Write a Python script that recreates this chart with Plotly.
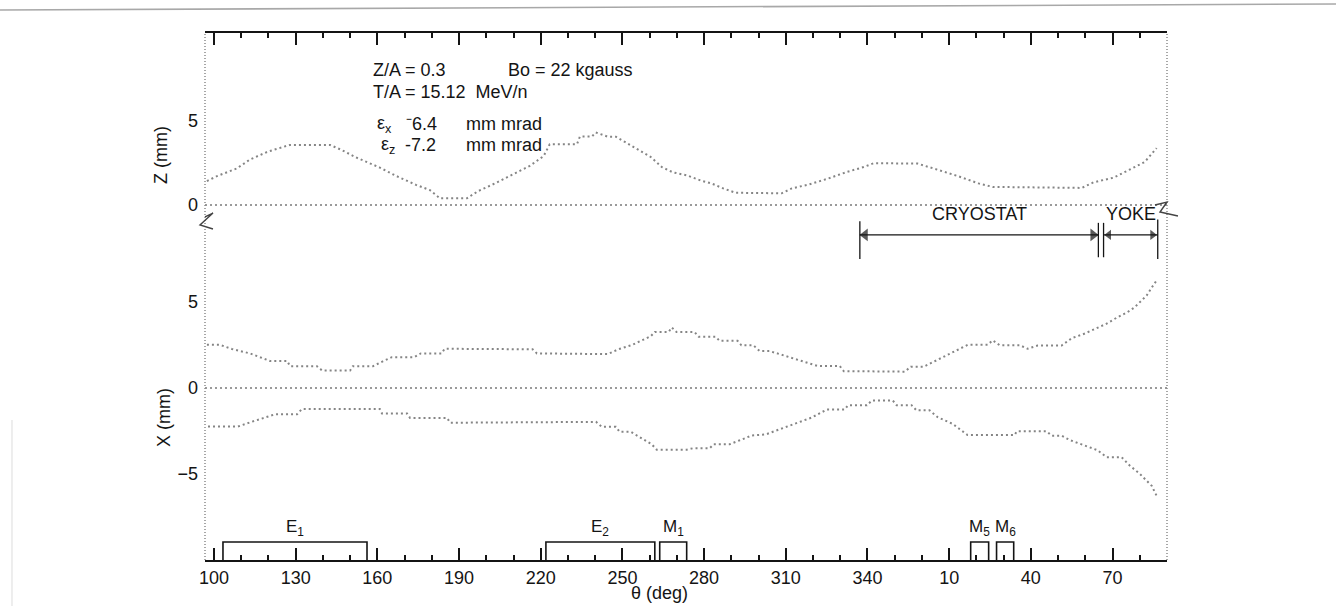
import plotly.graph_objects as go

# ---- beam envelope data: azimuth theta (deg, unwrapped past 360) ----
# vertical half-width Z (mm)
theta_z = [97.4, 101.1, 108.4, 113.2, 119.8, 127.9, 142.6, 147.0, 152.1, 160.9,
           166.8, 174.2, 179.3, 183.0, 192.9, 196.9, 203.2, 208.7, 216.0, 221.1,
           223.3, 233.3, 234.4, 238.8, 240.2, 244.6, 247.6, 250.9, 256.0, 260.4,
           264.5, 268.5, 273.6, 278.8, 282.8, 287.2, 291.6, 308.5, 312.2, 318.4,
           325.4, 332.4, 338.6, 342.3, 358.4, 362.1, 367.3, 373.1, 380.8, 386.0,
           418.7, 423.0, 430.4, 435.9, 441.8, 446.2]
z_env = [1.43, 1.72, 2.18, 2.71, 3.18, 3.58, 3.58, 3.27, 2.84, 2.23,
         1.74, 1.20, 0.89, 0.40, 0.40, 0.82, 1.29, 1.74, 2.33, 2.92,
         3.62, 3.62, 4.08, 4.08, 4.32, 4.07, 4.07, 3.76, 3.28, 2.86,
         2.26, 1.95, 1.77, 1.46, 1.28, 0.98, 0.73, 0.70, 0.99, 1.22,
         1.57, 1.97, 2.26, 2.49, 2.47, 2.29, 2.04, 1.73, 1.29, 1.08,
         1.02, 1.35, 1.63, 2.10, 2.56, 3.39]

# radial envelope, upper edge X (mm)
theta_xu = [97.4, 102.2, 106.6, 113.2, 120.6, 126.9, 127.9, 137.8, 139.7, 150.0,
            151.0, 158.4, 162.0, 165.3, 173.5, 176.0, 183.6, 184.7, 217.0, 218.6,
            244.6, 248.7, 253.5, 257.1, 260.4, 261.9, 267.0, 268.1, 269.9, 276.5,
            278.0, 284.2, 285.7, 292.3, 293.7, 298.1, 300.4, 304.0, 311.8, 317.7,
            321.7, 329.8, 331.3, 353.7, 355.9, 360.7, 364.3, 370.6, 374.2, 376.8,
            384.1, 386.0, 388.5, 395.9, 398.8, 402.5, 411.3, 415.1, 419.9, 424.2,
            427.8, 431.9, 435.5, 438.1, 440.7, 442.5, 444.4, 446.5]
x_upper = [2.52, 2.51, 2.27, 2.01, 1.57, 1.57, 1.27, 1.27, 1.02, 1.02,
           1.27, 1.27, 1.55, 1.79, 1.79, 2.01, 2.01, 2.28, 2.25, 2.01,
           1.97, 2.26, 2.50, 2.77, 3.01, 3.26, 3.26, 3.52, 3.25, 3.25,
           2.98, 2.98, 2.74, 2.74, 2.48, 2.48, 2.15, 2.15, 1.78, 1.48,
           1.28, 1.28, 0.98, 0.95, 1.24, 1.24, 1.52, 1.98, 2.26, 2.51,
           2.51, 2.77, 2.49, 2.49, 2.28, 2.47, 2.47, 2.90, 3.17, 3.46,
           3.74, 4.12, 4.41, 4.69, 5.08, 5.37, 5.84, 6.33]

# radial envelope, lower edge X (mm)
theta_xl = [97.8, 108.8, 113.2, 118.7, 122.4, 130.5, 132.3, 160.9, 161.7, 170.9,
            172.0, 185.6, 186.7, 240.3, 242.4, 247.6, 249.0, 253.1, 257.5, 260.8,
            262.6, 273.6, 275.8, 282.0, 283.5, 289.4, 293.1, 297.5, 302.6, 312.6,
            319.5, 325.1, 331.7, 332.8, 339.8, 341.6, 349.3, 350.7, 356.2, 358.0,
            362.8, 365.8, 371.3, 376.8, 394.0, 394.8, 405.8, 407.6, 411.3, 414.2,
            419.4, 424.5, 427.8, 433.3, 436.3, 440.0, 444.4, 446.2]
x_lower = [-2.24, -2.24, -2.00, -1.72, -1.53, -1.53, -1.22, -1.22, -1.48, -1.48,
           -1.74, -1.74, -2.02, -1.97, -2.26, -2.26, -2.55, -2.55, -2.99, -3.28,
           -3.59, -3.59, -3.51, -3.51, -3.27, -3.27, -3.04, -2.76, -2.70, -2.10,
           -1.72, -1.25, -1.25, -1.01, -1.01, -0.73, -0.73, -1.00, -1.00, -1.30,
           -1.30, -1.70, -2.09, -2.74, -2.74, -2.52, -2.52, -2.77, -2.77, -3.02,
           -3.32, -3.62, -4.02, -4.02, -4.51, -4.99, -5.69, -6.27]

# azimuth axis
theta_range = [96.7, 450.0]
tick_deg = list(range(100, 431, 30))
tick_text = [str(t % 360) for t in tick_deg]
minor_deg = [t for t in range(110, 441, 10) if (t - 100) % 30]

# elements along the orbit: label, start, end (deg)
element_names = ["E<sub>1</sub>", "E<sub>2</sub>", "M<sub>1</sub>", "M<sub>5</sub>", "M<sub>6</sub>"]
element_start = [103.3, 221.9, 263.7, 377.9, 387.4]
element_end = [156.2, 261.9, 273.6, 384.5, 393.7]

# magnet regions
region_names = ["CRYOSTAT", "YOKE"]
region_start = [337.2, 426.7]
region_end = [424.8, 446.6]

# ---- page geometry ----
W, H = 1336, 606
L, R, T, B = 205, 1167, 33, 560
x_split = 0.6528          # X panel below, Z panel above


def px(xp):
    return (xp - L) / (R - L)


def py(yp):
    return (B - yp) / (B - T)


INK = "#141414"
DOT = "#858585"
FONT = "Liberation Sans, Arial, Helvetica, sans-serif"

fig = go.Figure()

# zero / reference orbit lines
for xa, ya in (("x2", "y2"), ("x", "y")):
    fig.add_trace(go.Scatter(x=theta_range, y=[0, 0], mode="lines", xaxis=xa, yaxis=ya,
                             line=dict(color="#7a7a7a", width=1.6, dash="2px,3px"),
                             hoverinfo="skip", showlegend=False))

# envelopes
fig.add_trace(go.Scatter(x=theta_z, y=z_env, mode="lines", xaxis="x2", yaxis="y2",
                         line=dict(color=DOT, width=2, dash="2px,3px"), showlegend=False))
fig.add_trace(go.Scatter(x=theta_xu, y=x_upper, mode="lines", xaxis="x", yaxis="y",
                         line=dict(color=DOT, width=2, dash="2px,3px"), showlegend=False))
fig.add_trace(go.Scatter(x=theta_xl, y=x_lower, mode="lines", xaxis="x", yaxis="y",
                         line=dict(color=DOT, width=2, dash="2px,3px"), showlegend=False))

shapes = []
annotations = []

# element boxes on the orbit axis
box_top = -8.95
for name, a, b in zip(element_names, element_start, element_end):
    shapes.append(dict(type="path", xref="x", yref="y",
                       path=f"M {a} -10 L {a} {box_top} L {b} {box_top} L {b} -10",
                       line=dict(color=INK, width=1.6)))
    annotations.append(dict(x=(a + b) / 2, y=box_top + 0.05, xref="x", yref="y",
                            text=name, showarrow=False, xanchor="center", yanchor="bottom",
                            font=dict(size=17, color=INK)))

# cryostat / yoke extents: dimension lines with arrowheads
arrow_y = 8.9
head_off = 1.9            # half an arrowhead, in degrees
for name, a, b in zip(region_names, region_start, region_end):
    shapes.append(dict(type="line", xref="x", yref="y", x0=a, x1=b, y0=arrow_y, y1=arrow_y,
                       line=dict(color=INK, width=1.3)))
    annotations.append(dict(x=(a + b) / 2, y=arrow_y + 0.5, xref="x", yref="y",
                            text=name, showarrow=False, yanchor="bottom",
                            font=dict(size=18, color=INK)))
fig.add_trace(go.Scatter(
    x=[a + head_off for a in region_start] + [b - head_off for b in region_end],
    y=[arrow_y] * 4, mode="markers", xaxis="x", yaxis="y",
    marker=dict(symbol=["triangle-left"] * 2 + ["triangle-right"] * 2, size=[11, 9, 11, 9],
                color=INK, line=dict(width=0)),
    hoverinfo="skip", showlegend=False))
for xv, y0, y1 in ((region_start[0], 7.5, 9.7), (region_end[0], 7.6, 9.6),
                   (region_start[1], 7.6, 9.6), (region_end[1], 7.5, 9.8)):
    shapes.append(dict(type="line", xref="x", yref="y", x0=xv, x1=xv, y0=y0, y1=y1,
                       line=dict(color=INK, width=1.3)))

# dotted side borders
for xb in (0, 1):
    shapes.append(dict(type="line", xref="paper", yref="paper", x0=xb, x1=xb, y0=0, y1=1,
                       line=dict(color="#8a8a8a", width=1.5, dash="1px,2px")))

# axis-break marks
for pts in (((205, 217), (213, 213), (200, 225), (213, 229)),
            ((1155, 205), (1167, 202), (1160, 212), (1178, 216))):
    path = "M " + " L ".join(f"{px(a):.4f} {py(b):.4f}" for a, b in pts)
    shapes.append(dict(type="path", xref="paper", yref="paper", path=path,
                       line=dict(color="#444", width=1.4)))

# scanned page edge
shapes.append(dict(type="line", xref="paper", yref="paper", x0=px(0), x1=px(W),
                   y0=py(10), y1=py(4), line=dict(color="#a8a8a8", width=1.6)))
shapes.append(dict(type="line", xref="paper", yref="paper", x0=px(12), x1=px(12),
                   y0=py(420), y1=py(606), line=dict(color="#e2e2e2", width=1.2)))


# run parameters
def note(x, y, text, size=18):
    annotations.append(dict(x=px(x), y=py(y), xref="paper", yref="paper", text=text,
                            showarrow=False, xanchor="left", yanchor="middle",
                            font=dict(size=size, color=INK)))


note(371, 70, "Z/A = 0.3")
note(506, 70, "Bo = 22 kgauss")
note(371, 92, "T/A = 15.12  MeV/n")
note(375, 124, "ε<sub>x</sub>")
note(404, 124, "⁻6.4")
note(464, 124, "mm mrad")
note(379, 145, "ε<sub>z</sub>")
note(403, 145, "-7.2")
note(464, 145, "mm mrad")

# axis titles
for x, y, text, ang in ((161, 155, "Z (mm)", -90), (164, 418, "X (mm)", -90),
                        (659, 593, "θ (deg)", 0)):
    annotations.append(dict(x=px(x), y=py(y), xref="paper", yref="paper", text=text,
                            showarrow=False, textangle=ang, xanchor="center", yanchor="middle",
                            font=dict(size=18, color=INK)))

axis_common = dict(range=theta_range, showgrid=False, zeroline=False, showline=True,
                   linecolor=INK, linewidth=2, ticks="inside", ticklen=12, tickwidth=1.5,
                   tickcolor=INK, tickmode="array", tickvals=tick_deg,
                   minor=dict(tickmode="array", tickvals=minor_deg, ticks="inside",
                              ticklen=5, tickwidth=1.5, tickcolor=INK))

fig.update_layout(
    width=W, height=H,
    margin=dict(l=L, r=W - R, t=T, b=H - B),
    paper_bgcolor="white", plot_bgcolor="white",
    font=dict(family=FONT, color=INK, size=17),
    xaxis=dict(**axis_common, anchor="y", ticktext=tick_text,
               tickfont=dict(size=18, color=INK)),
    xaxis2=dict(**axis_common, anchor="y2", side="top", showticklabels=False),
    yaxis=dict(domain=[0, x_split], range=[-10, 10], tickmode="array",
               tickvals=[-5, 0, 5], ticktext=["−5", "0", "5"], ticks="",
               showline=False, showgrid=False, zeroline=False, ticklabelstandoff=6,
               tickfont=dict(size=18, color=INK)),
    yaxis2=dict(domain=[x_split, 1], range=[-0.65, 10.24], tickmode="array",
                tickvals=[0, 5], ticktext=["0", "5"], ticks="",
                showline=False, showgrid=False, zeroline=False, ticklabelstandoff=6,
                tickfont=dict(size=18, color=INK)),
    shapes=shapes,
    annotations=annotations,
    showlegend=False,
)

fig.write_html("out.html")
